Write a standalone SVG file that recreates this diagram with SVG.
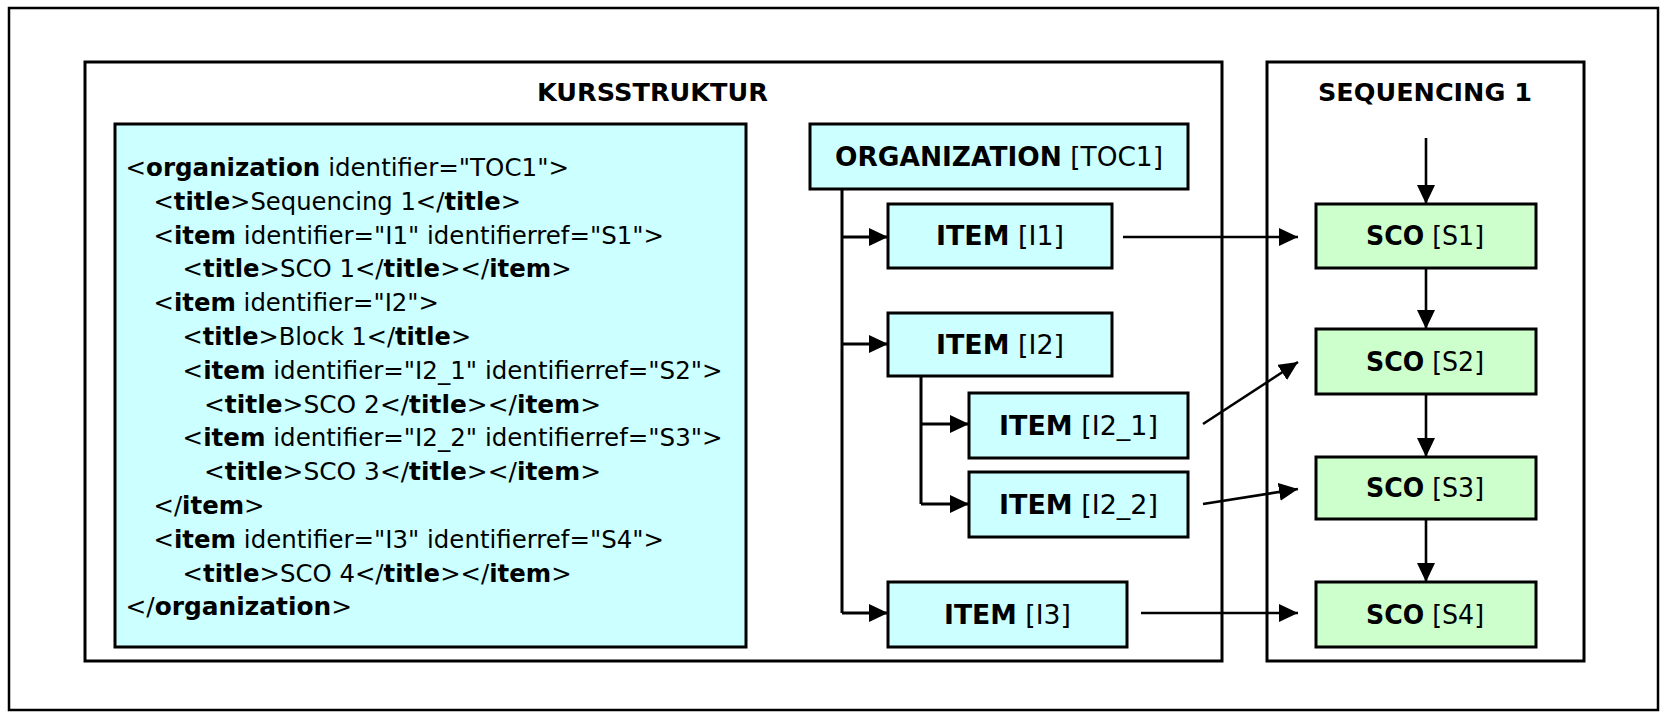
<svg xmlns="http://www.w3.org/2000/svg" width="1661" height="713" viewBox="0 0 1661 713">
<style>
.frame{fill:#fff;stroke:#000;stroke-width:2.5}
.cont{fill:#fff;stroke:#000;stroke-width:3}
.cyan{fill:#ccffff;stroke:#000;stroke-width:3}
.green{fill:#ccffcc;stroke:#000;stroke-width:3}
.code{font-family:"DejaVu Sans",Verdana,sans-serif;font-size:24.3px;fill:#000}
.lbl{font-family:"DejaVu Sans",Verdana,sans-serif;font-size:26px;fill:#000;text-anchor:middle}
.hdr{font-family:"DejaVu Sans",Verdana,sans-serif;font-size:25.5px;font-weight:bold;fill:#000;text-anchor:middle}
.b{font-weight:bold}
.tr{fill:none;stroke:#000;stroke-width:3}
.cn{fill:none;stroke:#000;stroke-width:2.6}
</style>
<defs>
<marker id="ah" markerUnits="userSpaceOnUse" markerWidth="20" markerHeight="20" refX="19" refY="9" orient="auto">
<path d="M0,0 L19,9 L0,18 z" fill="#000"/>
</marker>
</defs>
<rect class="frame" x="9" y="8" width="1649" height="702"/>
<g id="kursstruktur">
<rect class="cont" x="85" y="62" width="1137" height="599"/>
<text class="hdr" x="652.5" y="101" textLength="231" lengthAdjust="spacingAndGlyphs">KURSSTRUKTUR</text>
</g>
<g id="sequencing">
<rect class="cont" x="1267" y="62" width="317" height="599"/>
<text class="hdr" x="1425" y="101" textLength="214" lengthAdjust="spacingAndGlyphs">SEQUENCING 1</text>
</g>
<g id="xml-code">
<rect class="cyan" x="115" y="124" width="631" height="523"/>
<text class="code" x="125.5" y="176" textLength="443.5" lengthAdjust="spacingAndGlyphs">&lt;<tspan class="b">organization</tspan> identifier="TOC1"&gt;</text>
<text class="code" x="153.5" y="209.8" textLength="367.5" lengthAdjust="spacingAndGlyphs">&lt;<tspan class="b">title</tspan>&gt;Sequencing 1&lt;/<tspan class="b">title</tspan>&gt;</text>
<text class="code" x="153.5" y="243.6" textLength="510.5" lengthAdjust="spacingAndGlyphs">&lt;<tspan class="b">item</tspan> identifier="I1" identifierref="S1"&gt;</text>
<text class="code" x="182.6" y="277.4" textLength="389" lengthAdjust="spacingAndGlyphs">&lt;<tspan class="b">title</tspan>&gt;SCO 1&lt;/<tspan class="b">title</tspan>&gt;&lt;/<tspan class="b">item</tspan>&gt;</text>
<text class="code" x="153.5" y="311.2" textLength="285.5" lengthAdjust="spacingAndGlyphs">&lt;<tspan class="b">item</tspan> identifier="I2"&gt;</text>
<text class="code" x="182.6" y="345" textLength="288.5" lengthAdjust="spacingAndGlyphs">&lt;<tspan class="b">title</tspan>&gt;Block 1&lt;/<tspan class="b">title</tspan>&gt;</text>
<text class="code" x="182.6" y="378.8" textLength="540" lengthAdjust="spacingAndGlyphs">&lt;<tspan class="b">item</tspan> identifier="I2_1" identifierref="S2"&gt;</text>
<text class="code" x="204" y="412.6" textLength="397" lengthAdjust="spacingAndGlyphs">&lt;<tspan class="b">title</tspan>&gt;SCO 2&lt;/<tspan class="b">title</tspan>&gt;&lt;/<tspan class="b">item</tspan>&gt;</text>
<text class="code" x="182.6" y="446.4" textLength="540" lengthAdjust="spacingAndGlyphs">&lt;<tspan class="b">item</tspan> identifier="I2_2" identifierref="S3"&gt;</text>
<text class="code" x="204" y="480.2" textLength="397" lengthAdjust="spacingAndGlyphs">&lt;<tspan class="b">title</tspan>&gt;SCO 3&lt;/<tspan class="b">title</tspan>&gt;&lt;/<tspan class="b">item</tspan>&gt;</text>
<text class="code" x="153.5" y="514" textLength="111" lengthAdjust="spacingAndGlyphs">&lt;/<tspan class="b">item</tspan>&gt;</text>
<text class="code" x="153.5" y="547.8" textLength="510.5" lengthAdjust="spacingAndGlyphs">&lt;<tspan class="b">item</tspan> identifier="I3" identifierref="S4"&gt;</text>
<text class="code" x="182.6" y="581.6" textLength="389" lengthAdjust="spacingAndGlyphs">&lt;<tspan class="b">title</tspan>&gt;SCO 4&lt;/<tspan class="b">title</tspan>&gt;&lt;/<tspan class="b">item</tspan>&gt;</text>
<text class="code" x="125.5" y="615.4" textLength="226.5" lengthAdjust="spacingAndGlyphs">&lt;/<tspan class="b">organization</tspan>&gt;</text>
</g>
<g id="connectors">
<path class="tr" d="M842,189 V613 M921,376 V504"/>
<path class="tr" marker-end="url(#ah)" d="M842,237 H888"/>
<path class="tr" marker-end="url(#ah)" d="M842,344 H888"/>
<path class="tr" marker-end="url(#ah)" d="M842,613 H888"/>
<path class="tr" marker-end="url(#ah)" d="M921,424 H969"/>
<path class="tr" marker-end="url(#ah)" d="M921,504 H969"/>
<path class="cn" marker-end="url(#ah)" d="M1123,237 H1298"/>
<path class="cn" marker-end="url(#ah)" d="M1203,424 L1298,362"/>
<path class="cn" marker-end="url(#ah)" d="M1203,504 L1298,489"/>
<path class="cn" marker-end="url(#ah)" d="M1141,613 H1298"/>
<path class="cn" marker-end="url(#ah)" d="M1426,138 V204"/>
<path class="cn" marker-end="url(#ah)" d="M1426,268 V329"/>
<path class="cn" marker-end="url(#ah)" d="M1426,394 V457"/>
<path class="cn" marker-end="url(#ah)" d="M1426,519 V582"/>
</g>
<g id="org-toc1">
<rect class="cyan" x="810" y="124" width="378" height="65"/>
<text class="lbl" x="999" y="166" textLength="328" lengthAdjust="spacingAndGlyphs"><tspan class="b">ORGANIZATION</tspan> [TOC1]</text>
</g>
<g id="item-i1">
<rect class="cyan" x="888" y="204" width="224" height="64"/>
<text class="lbl" x="1000" y="245" textLength="128" lengthAdjust="spacingAndGlyphs"><tspan class="b">ITEM</tspan> [I1]</text>
</g>
<g id="item-i2">
<rect class="cyan" x="888" y="313" width="224" height="63"/>
<text class="lbl" x="1000" y="353.5" textLength="128" lengthAdjust="spacingAndGlyphs"><tspan class="b">ITEM</tspan> [I2]</text>
</g>
<g id="item-i2_1">
<rect class="cyan" x="969" y="393" width="219" height="65"/>
<text class="lbl" x="1078.5" y="434.5" textLength="159" lengthAdjust="spacingAndGlyphs"><tspan class="b">ITEM</tspan> [I2_1]</text>
</g>
<g id="item-i2_2">
<rect class="cyan" x="969" y="472" width="219" height="65"/>
<text class="lbl" x="1078.5" y="513.5" textLength="159" lengthAdjust="spacingAndGlyphs"><tspan class="b">ITEM</tspan> [I2_2]</text>
</g>
<g id="item-i3">
<rect class="cyan" x="888" y="582" width="239" height="65"/>
<text class="lbl" x="1007.5" y="623.5" textLength="127" lengthAdjust="spacingAndGlyphs"><tspan class="b">ITEM</tspan> [I3]</text>
</g>
<g id="sco-s1">
<rect class="green" x="1316" y="204" width="220" height="64"/>
<text class="lbl" x="1425" y="245" textLength="118" lengthAdjust="spacingAndGlyphs"><tspan class="b">SCO</tspan> [S1]</text>
</g>
<g id="sco-s2">
<rect class="green" x="1316" y="329" width="220" height="65"/>
<text class="lbl" x="1425" y="370.5" textLength="118" lengthAdjust="spacingAndGlyphs"><tspan class="b">SCO</tspan> [S2]</text>
</g>
<g id="sco-s3">
<rect class="green" x="1316" y="457" width="220" height="62"/>
<text class="lbl" x="1425" y="497" textLength="118" lengthAdjust="spacingAndGlyphs"><tspan class="b">SCO</tspan> [S3]</text>
</g>
<g id="sco-s4">
<rect class="green" x="1316" y="582" width="220" height="65"/>
<text class="lbl" x="1425" y="623.5" textLength="118" lengthAdjust="spacingAndGlyphs"><tspan class="b">SCO</tspan> [S4]</text>
</g>
</svg>
